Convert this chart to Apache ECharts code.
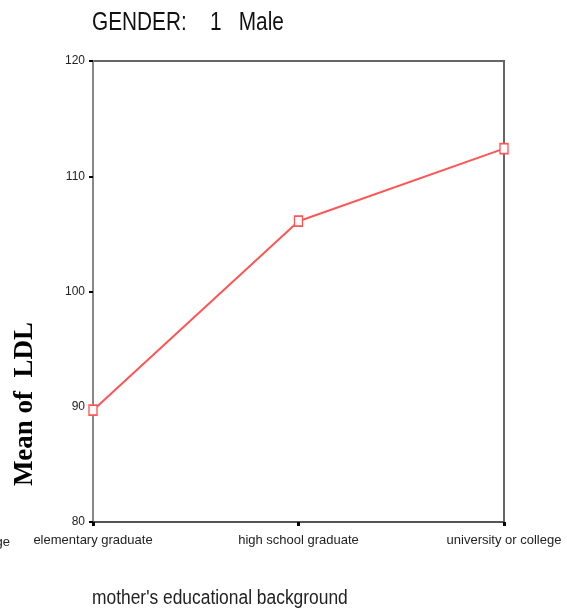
<!DOCTYPE html>
<html><head><meta charset="utf-8">
<script src="https://cdn.jsdelivr.net/npm/echarts@6/dist/echarts.min.js"></script>
<style>html,body{margin:0;padding:0;background:#fff}#c{width:567px;height:611px}</style>
</head><body><div id="c"></div>
<script>
const categories = ["elementary graduate", "high school graduate", "university or college"];
const meanLDL = [89.7, 106.1, 112.4];
const yTicks = [80, 90, 100, 110, 120];
const titleText = "GENDER:    1   Male";
const xName = "mother's educational background";
const yName = "Mean of  LDL";

const sans = "'Liberation Sans', Arial, sans-serif";
const chart = echarts.init(document.getElementById('c'));
chart.setOption({
  animation: false,
  grid: { left: 93, right: 63, top: 61, bottom: 89, show: true, borderColor: '#666', borderWidth: 2, backgroundColor: 'transparent' },
  xAxis: {
    type: 'category', data: categories, boundaryGap: false,
    axisLine: { lineStyle: { color: '#555', width: 2 } },
    axisTick: { show: true, alignWithLabel: true, length: 4, lineStyle: { color: '#000', width: 3 } },
    axisLabel: { margin: 12, fontFamily: sans, fontSize: 13, color: '#222', showMinLabel: true, showMaxLabel: true },
    splitLine: { show: false }
  },
  yAxis: {
    type: 'value', min: 80, max: 120, interval: 10,
    axisLine: { show: true, lineStyle: { color: '#888', width: 2 } },
    axisTick: { show: true, length: 4, lineStyle: { color: '#000', width: 2 } },
    axisLabel: { margin: 8, fontFamily: sans, fontSize: 12, color: '#222',
      formatter: v => yTicks.includes(v) ? String(v) : '' },
    splitLine: { show: false }
  },
  graphic: [
    { type: 'text', x: 92, y: 23, scaleX: 0.8,
      style: { text: titleText, fontFamily: sans, fontSize: 26, fill: '#111', verticalAlign: 'middle' } },
    { type: 'text', x: 92, y: 598, scaleX: 0.87,
      style: { text: xName, fontFamily: sans, fontSize: 20, fill: '#222', verticalAlign: 'middle' } },
    { type: 'text', x: 25, y: 404, rotation: Math.PI / 2,
      style: { text: yName, fontFamily: "'Liberation Serif', 'Times New Roman', serif", fontWeight: 'bold', fontSize: 27, fill: '#000', align: 'center', verticalAlign: 'middle' } },
    { type: 'text', right: 557, top: 536,
      style: { text: 'college', fontFamily: sans, fontSize: 13, fill: '#222' } }
  ],
  series: [{
    type: 'line', data: meanLDL,
    symbol: 'rect', symbolSize: [8, 10],
    itemStyle: { color: '#fff', borderColor: '#ff5555', borderWidth: 1.5 },
    lineStyle: { color: '#ff5555', width: 2 }
  }]
});
</script></body></html>
